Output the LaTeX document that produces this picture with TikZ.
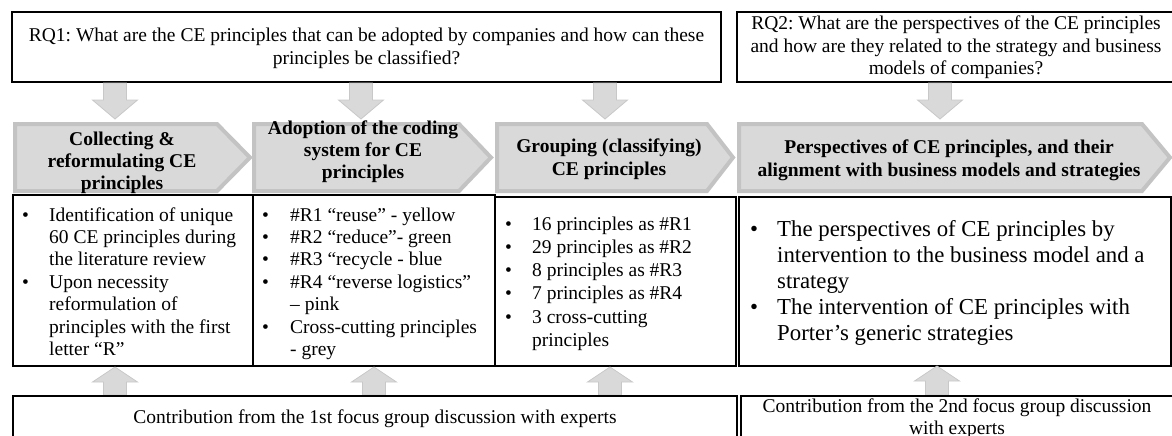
\documentclass[tikz,border=0pt]{standalone}
\usepackage{fontspec}
\setmainfont{Liberation Serif}
\frenchspacing
\definecolor{chevfill}{HTML}{D9D9D9}
\definecolor{chevline}{HTML}{C3C3C3}
\definecolor{arrfill}{HTML}{D9D9D9}
\definecolor{arrline}{HTML}{C8C8C8}
\newcommand\bul[1]{\makebox[#1][l]{\textbullet}}
\newcommand\ind[1]{\hspace*{#1}}
\newcommand\dnarr[4]{% name, cx, top, tip
  \draw[blk] (#2-11.5,#3) -- (#2+11.5,#3) -- (#2+11.5,#4-19) -- (#2+22.5,#4-19) -- (#2,#4) -- (#2-22.5,#4-19) -- (#2-11.5,#4-19) -- cycle;
  \coordinate (#1) at (#2,#4);}
\newcommand\uparr[4]{% name, cx, bottom, tip
  \draw[blk] (#2-11.5,#3) -- (#2+11.5,#3) -- (#2+11.5,#4+15) -- (#2+22.5,#4+15) -- (#2,#4) -- (#2-22.5,#4+15) -- (#2-11.5,#4+15) -- cycle;
  \coordinate (#1) at (#2,#4);}
\begin{document}
\begin{tikzpicture}[x=1pt,y=-1pt,
  box/.style={draw=black, line width=1.1pt},
  chev/.style={fill=chevfill, draw=chevline, line width=4pt, line join=miter},
  blk/.style={fill=arrfill, draw=arrline, line width=0.8pt},
  txt/.style={inner sep=0pt, font=\fontsize{19.5}{22.4}\selectfont},
  btxt/.style={inner sep=0pt, font=\fontsize{19.5}{22.3}\selectfont\bfseries},
  btxtw/.style={inner sep=0pt, font=\fontsize{19.5}{23.5}\selectfont\bfseries}]
\useasboundingbox (0,0) rectangle (1172,436);

% top question boxes
\draw[box] (12,12) rectangle (721,82);
\draw[box] (737,12) rectangle (1180,82);
\node[txt, anchor=base] (rq1) at (366.5,42) {\parbox[t]{700pt}{\centering RQ1: What are the CE principles that can be adopted by companies and how can these\\principles be classified?}};
\node[txt, anchor=base] (rq2) at (956,30) {\parbox[t]{430pt}{\centering RQ2: What are the perspectives of the CE principles\\and how are they related to the strategy and business\\models of companies?}};

% down arrows
\dnarr{d1}{115}{83}{119}
\dnarr{d2}{361}{83}{119}
\dnarr{d3}{605}{83}{119}
\dnarr{d4}{940}{83}{119}

% chevrons
\draw[chev] (15,124) -- (217,124) -- (250,157.5) -- (217,191) -- (15,191) -- cycle;
\draw[chev] (254,124) -- (459,124) -- (491,157.5) -- (459,191) -- (254,191) -- cycle;
\draw[chev] (497,124) -- (707,124) -- (733,157.5) -- (707,191) -- (497,191) -- cycle;
\draw[chev] (739,124) -- (1142,124) -- (1170,157.5) -- (1142,191) -- (739,191) -- cycle;

\node[btxt, anchor=base] (c1) at (122,145) {\parbox[t]{230pt}{\centering Collecting \&\\reformulating CE\\principles}};
\node[btxt, anchor=base] (c2) at (363,134) {\parbox[t]{230pt}{\centering Adoption of the coding\\system for CE\\principles}};
\node[btxtw, anchor=base] (c3) at (609,152) {\parbox[t]{230pt}{\centering Grouping (classifying)\\CE principles}};
\node[btxtw, anchor=base] (c4) at (949,153) {\parbox[t]{420pt}{\centering Perspectives of CE principles, and their\\alignment with business models and strategies}};

% body boxes
\draw[box] (13,195) rectangle (253,366);
\draw[box] (253,195) rectangle (495,366);
\draw[box] (495,197) rectangle (736,366);
\draw[box] (739,197) rectangle (1171,366);

\node[txt, anchor=base west] (b1) at (22,221) {\parbox[t]{235pt}{\raggedright
\bul{27pt}Identification of unique\\
\ind{27pt}60 CE principles during\\
\ind{27pt}the literature review\\
\bul{27pt}Upon necessity\\
\ind{27pt}reformulation of\\
\ind{27pt}principles with the first\\
\ind{27pt}letter “R”}};
\node[txt, anchor=base west] (b2) at (262,221) {\parbox[t]{235pt}{\raggedright
\bul{28pt}\#R1 “reuse” - yellow\\
\bul{28pt}\#R2 “reduce”- green\\
\bul{28pt}\#R3 “recycle - blue\\
\bul{28pt}\#R4 “reverse logistics”\\
\ind{28pt}– pink\\
\bul{28pt}Cross-cutting principles\\
\ind{28pt}- grey}};
\node[inner sep=0pt, font=\fontsize{19.5}{23.3}\selectfont, anchor=base west] (b3) at (505,230) {\parbox[t]{235pt}{\raggedright
\bul{27pt}16 principles as \#R1\\
\bul{27pt}29 principles as \#R2\\
\bul{27pt}8 principles as \#R3\\
\bul{27pt}7 principles as \#R4\\
\bul{27pt}3 cross-cutting\\
\ind{27pt}principles}};
\node[inner sep=0pt, font=\fontsize{22.8}{26.2}\selectfont, anchor=base west] (b4) at (750,236) {\parbox[t]{425pt}{\raggedright
\bul{27pt}The perspectives of CE principles by\\
\ind{27pt}intervention to the business model and a\\
\ind{27pt}strategy\\
\bul{27pt}The intervention of CE principles with\\
\ind{27pt}Porter’s generic strategies}};

% up arrows
\uparr{u1}{115}{395}{367}
\uparr{u2}{374}{395}{367}
\uparr{u3}{610}{395}{367}
\uparr{u4}{937}{395}{366}

% bottom boxes
\draw[box] (13,396) rectangle (737,445);
\draw[box] (741,396) rectangle (1180,445);
\node[txt, anchor=base] (f1) at (375,423) {Contribution from the 1st focus group discussion with experts};
\node[txt, anchor=base] (f2) at (957,412) {\parbox[t]{430pt}{\centering Contribution from the 2nd focus group discussion\\with experts}};
\end{tikzpicture}
\end{document}
